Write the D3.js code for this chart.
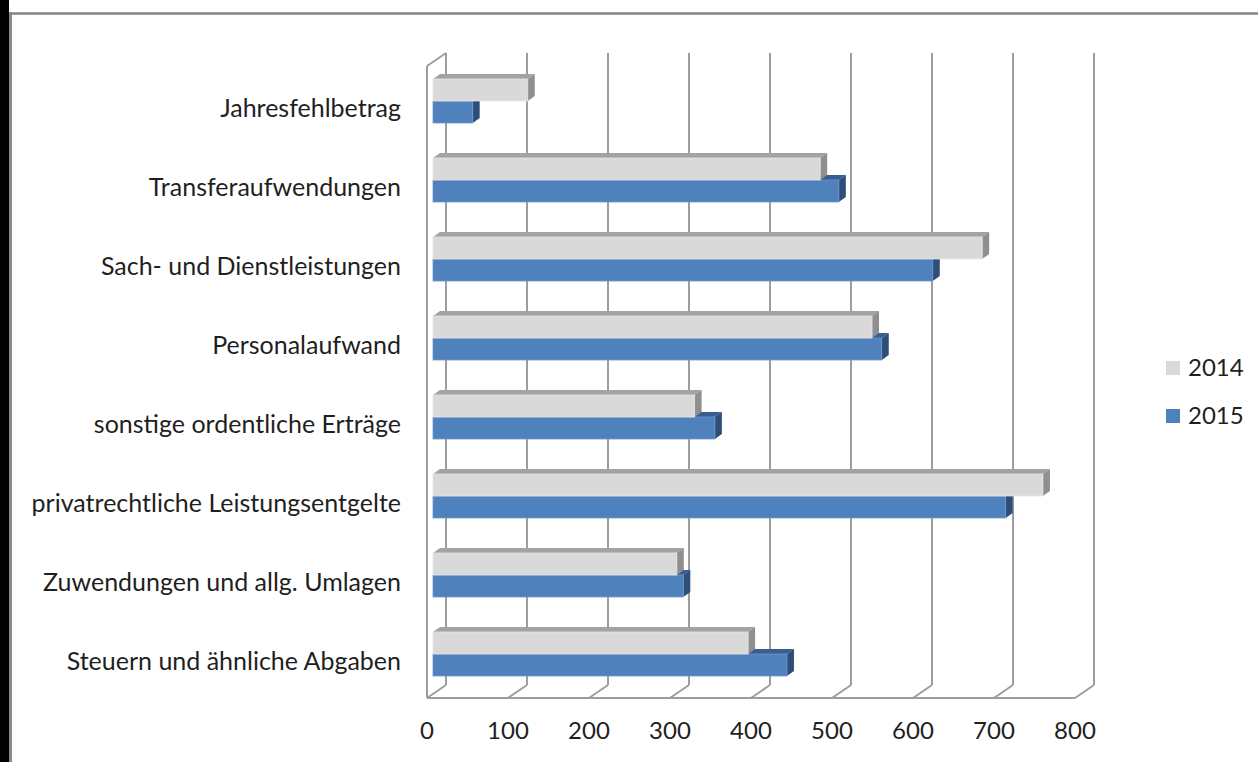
<!DOCTYPE html>
<html>
<head>
<meta charset="utf-8">
<script src="https://cdn.jsdelivr.net/npm/d3@7"></script>
<style>
  html, body { margin: 0; padding: 0; background: #fff; }
  svg { display: block; }
  text { font-family: Lato, "Open Sans", sans-serif; fill: #1f1f1f; }
</style>
</head>
<body>
<svg id="chart" width="1258" height="762"></svg>
<script>
// ---- data ----
const categories = [
  "Jahresfehlbetrag",
  "Transferaufwendungen",
  "Sach- und Dienstleistungen",
  "Personalaufwand",
  "sonstige ordentliche Erträge",
  "privatrechtliche Leistungsentgelte",
  "Zuwendungen und allg. Umlagen",
  "Steuern und ähnliche Abgaben"
];
const seriesNames = ["2014", "2015"];
const values2014 = [117, 478, 678, 542, 323, 753, 301, 389];
const values2015 = [49, 501, 617, 554, 348, 707, 309, 437];
const tickValues = [0, 100, 200, 300, 400, 500, 600, 700, 800];

// ---- layout ----
const svg = d3.select("#chart");
const W = 1258, H = 762;

// frame
svg.append("rect").attr("x", 0).attr("y", 0).attr("width", 9).attr("height", H).attr("fill", "#000");
svg.append("line").attr("x1", 10.5).attr("x2", 10.5).attr("y1", 12).attr("y2", H)
  .attr("stroke", "#8a8a8a").attr("stroke-width", 3);
svg.append("line").attr("x1", 9).attr("x2", W).attr("y1", 13.5).attr("y2", 13.5)
  .attr("stroke", "#858585").attr("stroke-width", 2.5);

const x = d3.scaleLinear().domain([0, 800]).range([427, 1075]);   // front plane
const depthX = 19, depthY = 13;                                  // wall depth
const barShiftX = 6;                                             // bar front plane
const floorY = 698, topY = 66;

const gridColor = "#9d9d9d";
const g = svg.append("g");

// back gridlines + floor diagonals
tickValues.forEach(v => {
  const xb = x(v) + depthX;
  g.append("line").attr("x1", xb).attr("x2", xb)
    .attr("y1", topY - depthY).attr("y2", floorY - depthY)
    .attr("stroke", gridColor).attr("stroke-width", 2);
  g.append("line").attr("x1", xb).attr("y1", floorY - depthY)
    .attr("x2", x(v)).attr("y2", floorY)
    .attr("stroke", gridColor).attr("stroke-width", 2);
});
// front baseline
g.append("line").attr("x1", x(0)).attr("x2", x(800)).attr("y1", floorY).attr("y2", floorY)
  .attr("stroke", gridColor).attr("stroke-width", 2);
// left wall front edge + top diagonal
g.append("line").attr("x1", x(0)).attr("x2", x(0)).attr("y1", topY).attr("y2", floorY)
  .attr("stroke", gridColor).attr("stroke-width", 2);
g.append("line").attr("x1", x(0)).attr("y1", topY).attr("x2", x(0) + depthX).attr("y2", topY - depthY)
  .attr("stroke", gridColor).attr("stroke-width", 2);

// bars
const yBand = d3.scaleBand().domain(categories).range([61.5, 693.5])
  .paddingInner(35 / 79).paddingOuter(35 / 158);
const ySeries = d3.scaleBand().domain(seriesNames).range([0, yBand.bandwidth()]);
const xb = v => x(v) + barShiftX;

const dx = 7, dy = 5;
const styles = {
  "2014": { front: "#d9d9d9", top: "#a3a3a3", side: "#8f8f8f", edge: "#e6e6e6" },
  "2015": { front: "#4f81bd", top: "#385f8f", side: "#2d4e78", edge: "#6f98cc" }
};
const seriesData = { "2014": values2014, "2015": values2015 };

// draw 2015 first (lower), then 2014 on top
["2015", "2014"].forEach(s => {
  const st = styles[s];
  const gs = svg.append("g");
  categories.forEach((c, i) => {
    const v = seriesData[s][i];
    const x0 = xb(0), x1 = xb(v);
    const y0 = yBand(c) + ySeries(s), h = ySeries.bandwidth();
    gs.append("polygon")
      .attr("points", [[x0, y0], [x1, y0], [x1 + dx, y0 - dy], [x0 + dx, y0 - dy]].join(" "))
      .attr("fill", st.top);
    gs.append("polygon")
      .attr("points", [[x1, y0], [x1 + dx, y0 - dy], [x1 + dx, y0 + h - dy], [x1, y0 + h]].join(" "))
      .attr("fill", st.side);
    gs.append("rect").attr("x", x0).attr("y", y0).attr("width", x1 - x0).attr("height", h)
      .attr("fill", st.front).attr("stroke", st.edge).attr("stroke-width", 0.8);
  });
});

// category labels
svg.append("g").selectAll("text").data(categories).join("text")
  .attr("x", 401)
  .attr("y", c => yBand(c) + yBand.bandwidth() / 2 + 6)
  .attr("text-anchor", "end")
  .attr("dominant-baseline", "central")
  .attr("font-size", 25)
  .text(c => c);

// value axis labels
svg.append("g").selectAll("text").data(tickValues).join("text")
  .attr("x", v => x(v))
  .attr("y", 739)
  .attr("text-anchor", "middle")
  .attr("font-size", 24)
  .text(v => v);

// legend
const legend = svg.append("g");
seriesNames.forEach((s, i) => {
  const ly = 361 + i * 48;
  legend.append("rect").attr("x", 1166).attr("y", ly).attr("width", 14).attr("height", 14)
    .attr("fill", styles[s].front);
  legend.append("text").attr("x", 1188).attr("y", ly + 15).attr("font-size", 24).text(s);
});
</script>
</body>
</html>
